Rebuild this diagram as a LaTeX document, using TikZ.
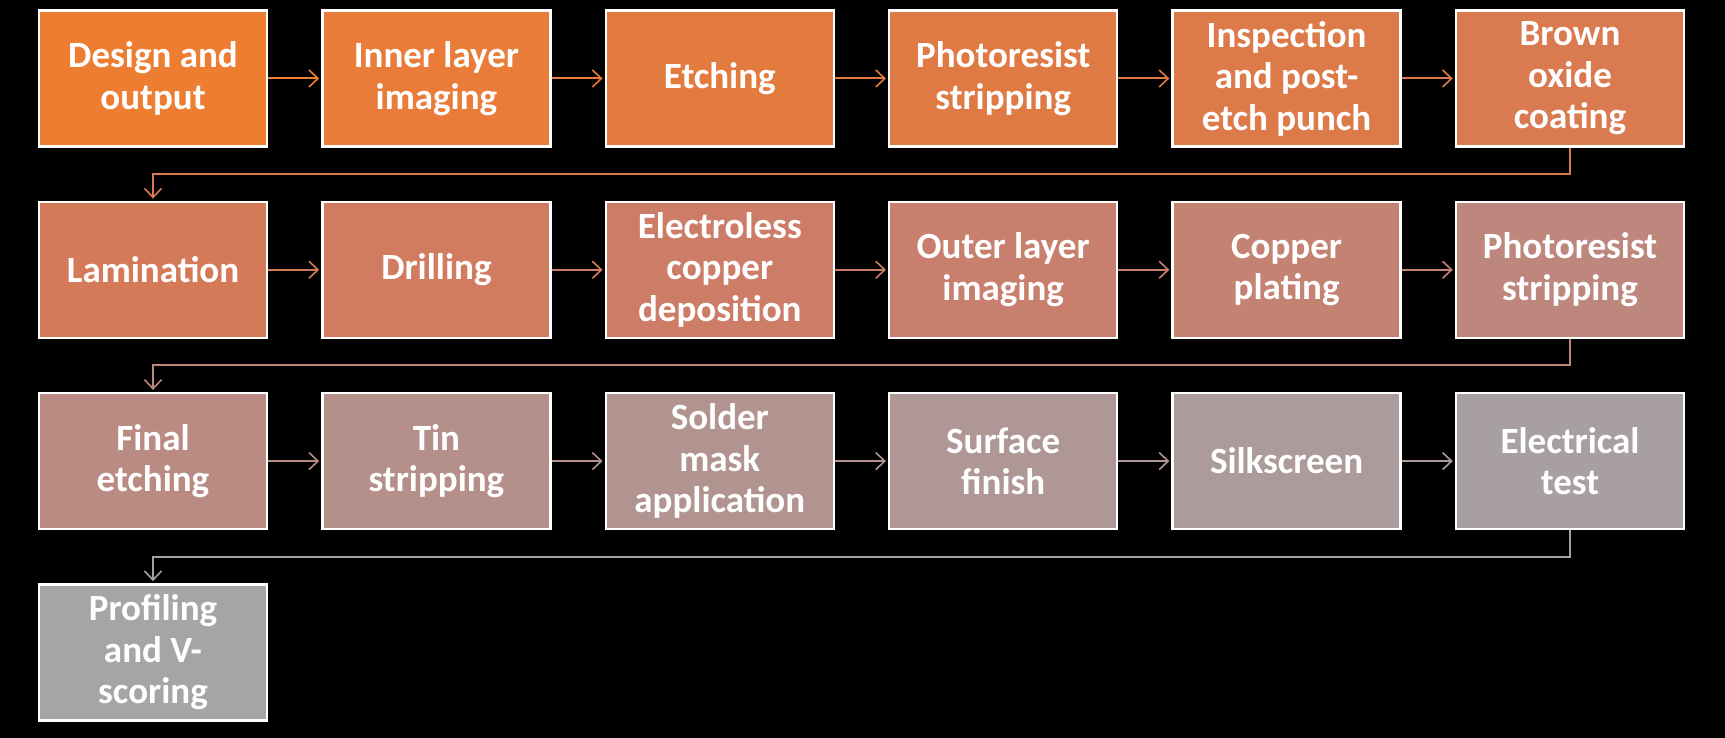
\documentclass[tikz,border=0pt]{standalone}
\usepackage{fontspec}
\setmainfont{Carlito}
\usetikzlibrary{arrows.meta}
\definecolor{c0}{RGB}{237,125,49}
\definecolor{c1}{RGB}{232,124,56}
\definecolor{c2}{RGB}{228,123,62}
\definecolor{c3}{RGB}{224,122,68}
\definecolor{c4}{RGB}{221,122,74}
\definecolor{c5}{RGB}{217,122,80}
\definecolor{c6}{RGB}{213,122,89}
\definecolor{c7}{RGB}{209,123,96}
\definecolor{c8}{RGB}{205,125,103}
\definecolor{c9}{RGB}{200,127,109}
\definecolor{c10}{RGB}{196,130,115}
\definecolor{c11}{RGB}{190,135,125}
\definecolor{c12}{RGB}{185,139,131}
\definecolor{c13}{RGB}{181,143,137}
\definecolor{c14}{RGB}{177,147,143}
\definecolor{c15}{RGB}{174,151,149}
\definecolor{c16}{RGB}{171,155,154}
\definecolor{c17}{RGB}{168,160,160}
\definecolor{c18}{RGB}{165,165,165}
\begin{document}
\begin{tikzpicture}[x=1pt,y=-1pt,
  stepbox/.style={draw=white,line width=2.5pt,minimum width=228pt,minimum height=136pt,
    inner sep=2pt,align=center,text=white,font=\fontsize{37}{41.5}\selectfont\bfseries},
  conn/.style={line width=2pt,shorten >=2pt,-{Straight Barb[length=9pt,width=17pt,line width=1.6pt]}}]
\fill[black] (0,0) rectangle (1725,738);
\useasboundingbox (0,0) rectangle (1725,738);
% row 1
\node[stepbox,fill=c0] (n0) at (153,78.5) {Design and\\output};
\node[stepbox,fill=c1] (n1) at (436.4,78.5) {Inner layer\\imaging};
\node[stepbox,fill=c2] (n2) at (719.8,78.5) {Etching};
\node[stepbox,fill=c3] (n3) at (1003.2,78.5) {Photoresist\\stripping};
\node[stepbox,fill=c4] (n4) at (1286.6,78.5) {Inspection\\and post-\\etch punch};
\node[stepbox,fill=c5] (n5) at (1570,78.5) {Brown\\oxide\\coating};
% row 2
\node[stepbox,fill=c6] (n6) at (153,269.8) {Lamination};
\node[stepbox,fill=c7] (n7) at (436.4,269.8) {Drilling};
\node[stepbox,fill=c8] (n8) at (719.8,269.8) {Electroless\\copper\\deposition};
\node[stepbox,fill=c9] (n9) at (1003.2,269.8) {Outer layer\\imaging};
\node[stepbox,fill=c10] (n10) at (1286.6,269.8) {Copper\\plating};
\node[stepbox,fill=c11] (n11) at (1570,269.8) {Photoresist\\stripping};
% row 3
\node[stepbox,fill=c12] (n12) at (153,461.1) {Final\\etching};
\node[stepbox,fill=c13] (n13) at (436.4,461.1) {Tin\\stripping};
\node[stepbox,fill=c14] (n14) at (719.8,461.1) {Solder\\mask\\application};
\node[stepbox,fill=c15] (n15) at (1003.2,461.1) {Surface\\finish};
\node[stepbox,fill=c16] (n16) at (1286.6,461.1) {Silkscreen};
\node[stepbox,fill=c17] (n17) at (1570,461.1) {Electrical\\test};
% row 4
\node[stepbox,fill=c18] (n18) at (153,652.4) {Profiling\\and V-\\scoring};
% connectors
\draw[conn,c0] (n0.east) -- (n1.west);
\draw[conn,c1] (n1.east) -- (n2.west);
\draw[conn,c2] (n2.east) -- (n3.west);
\draw[conn,c3] (n3.east) -- (n4.west);
\draw[conn,c4] (n4.east) -- (n5.west);
\draw[conn,c5] (n5.south) -- ++(0,26.3) -| (n6.north);
\draw[conn,c6] (n6.east) -- (n7.west);
\draw[conn,c7] (n7.east) -- (n8.west);
\draw[conn,c8] (n8.east) -- (n9.west);
\draw[conn,c9] (n9.east) -- (n10.west);
\draw[conn,c10] (n10.east) -- (n11.west);
\draw[conn,c11] (n11.south) -- ++(0,26.3) -| (n12.north);
\draw[conn,c12] (n12.east) -- (n13.west);
\draw[conn,c13] (n13.east) -- (n14.west);
\draw[conn,c14] (n14.east) -- (n15.west);
\draw[conn,c15] (n15.east) -- (n16.west);
\draw[conn,c16] (n16.east) -- (n17.west);
\draw[conn,c17] (n17.south) -- ++(0,26.3) -| (n18.north);
\end{tikzpicture}
\end{document}
